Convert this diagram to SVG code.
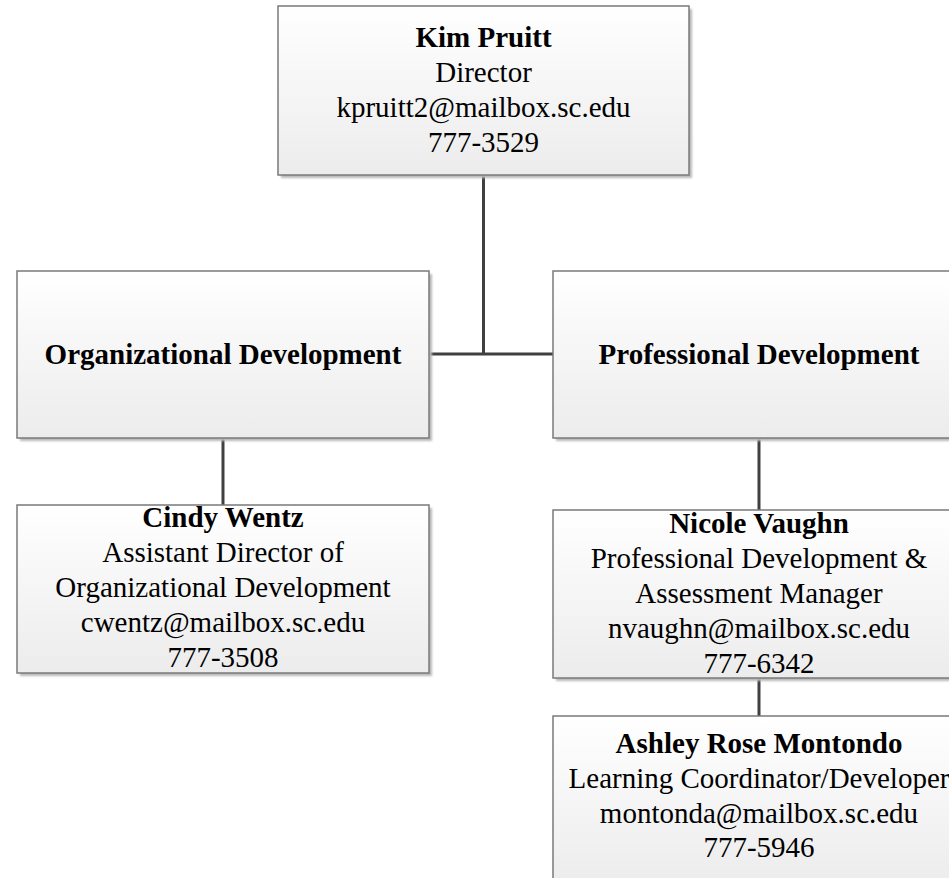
<svg xmlns="http://www.w3.org/2000/svg" width="949" height="878" viewBox="0 0 949 878">
<defs>
<linearGradient id="g" x1="0" y1="0" x2="0" y2="1">
<stop offset="0" stop-color="#ffffff"/>
<stop offset="1" stop-color="#ececec"/>
</linearGradient>
<filter id="blur" x="-5%" y="-5%" width="110%" height="110%"><feGaussianBlur stdDeviation="1"/></filter>
<style>
.sh{fill:#b8b8b8;filter:url(#blur)}
.bx{fill:url(#g);stroke:#7a7a7a;stroke-width:1.5}
.t{font-family:"Liberation Serif","Times New Roman",serif;font-size:29px;fill:#000;text-anchor:middle}
.b{font-weight:bold}
.c{stroke:#404040;stroke-width:3;fill:none}
</style>
</defs>
<rect width="949" height="878" fill="#ffffff"/>
<g id="connectors">
<path class="c" d="M483.5,175 V354 M429,354 H553"/>
<path class="c" d="M223,438 V505"/>
<path class="c" d="M759,438 V510"/>
<path class="c" d="M759,678 V716"/>
</g>
<g id="kim">
<rect class="sh" x="281" y="9" width="411" height="169"/>
<rect class="bx" x="278" y="6" width="411" height="169"/>
<text class="t b" x="483.5" y="47">Kim Pruitt</text>
<text class="t" x="483.5" y="82">Director</text>
<text class="t" x="483.5" y="117">kpruitt2@mailbox.sc.edu</text>
<text class="t" x="483.5" y="152">777-3529</text>
</g>
<g id="od">
<rect class="sh" x="20" y="274" width="412" height="167"/>
<rect class="bx" x="17" y="271" width="412" height="167"/>
<text class="t b" x="223" y="364">Organizational Development</text>
</g>
<g id="pd">
<rect class="sh" x="556" y="274" width="412" height="167"/>
<rect class="bx" x="553" y="271" width="412" height="167"/>
<text class="t b" x="759" y="364">Professional Development</text>
</g>
<g id="cindy">
<rect class="sh" x="20" y="508" width="412" height="168"/>
<rect class="bx" x="17" y="505" width="412" height="168"/>
<text class="t b" x="223" y="527">Cindy Wentz</text>
<text class="t" x="223" y="562">Assistant Director of</text>
<text class="t" x="223" y="597">Organizational Development</text>
<text class="t" x="223" y="632">cwentz@mailbox.sc.edu</text>
<text class="t" x="223" y="667">777-3508</text>
</g>
<g id="nicole">
<rect class="sh" x="556" y="513" width="412" height="168"/>
<rect class="bx" x="553" y="510" width="412" height="168"/>
<text class="t b" x="759" y="533">Nicole Vaughn</text>
<text class="t" x="759" y="568">Professional Development &amp;</text>
<text class="t" x="759" y="603">Assessment Manager</text>
<text class="t" x="759" y="638">nvaughn@mailbox.sc.edu</text>
<text class="t" x="759" y="673">777-6342</text>
</g>
<g id="ashley">
<rect class="sh" x="556" y="719" width="412" height="168"/>
<rect class="bx" x="553" y="716" width="412" height="168"/>
<text class="t b" x="759" y="753">Ashley Rose Montondo</text>
<text class="t" x="759" y="788">Learning Coordinator/Developer</text>
<text class="t" x="759" y="823">montonda@mailbox.sc.edu</text>
<text class="t" x="759" y="857">777-5946</text>
</g>
</svg>
